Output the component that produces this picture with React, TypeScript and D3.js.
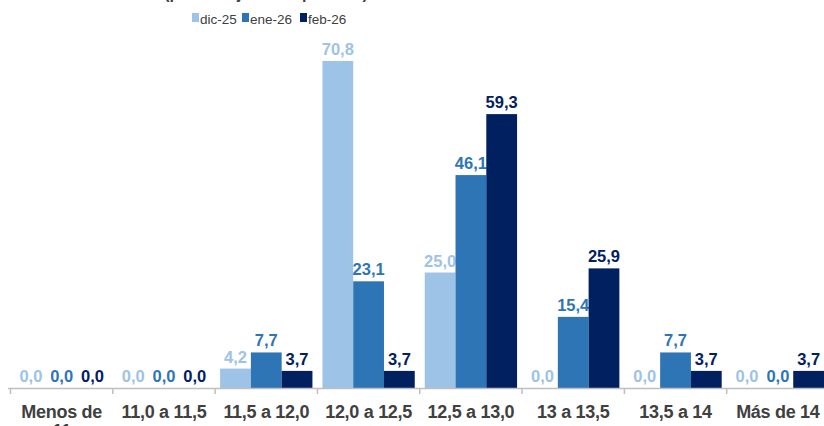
import React from "react";
import * as d3 from "d3";

const categories = ["Menos de 11", "11,0 a 11,5", "11,5 a 12,0", "12,0 a 12,5", "12,5 a 13,0", "13 a 13,5", "13,5 a 14", "Más de 14"];
const seriesNames = ["dic-25", "ene-26", "feb-26"];
const dic25 = [0.0, 0.0, 4.2, 70.8, 25.0, 0.0, 0.0, 0.0];
const ene26 = [0.0, 0.0, 7.7, 23.1, 46.1, 15.4, 7.7, 0.0];
const feb26 = [0.0, 0.0, 3.7, 3.7, 59.3, 25.9, 3.7, 3.7];
const colors = ["#9DC3E6", "#2E75B6", "#002060"];

const W = 824;
const H = 426;
const baseY = 388;

const fmt = (v: number) => v.toFixed(1).replace(".", ",");

export default function App() {
  const series = [dic25, ene26, feb26];
  const x0 = d3.scaleBand<string>().domain(categories).range([10.5, 829]).padding(0);
  const x1 = d3.scaleBand<string>().domain(seriesNames).range([5, x0.bandwidth() - 5]).padding(0);
  const y = d3.scaleLinear().domain([0, 70.8]).range([baseY, 61]);

  const legendX = [192, 242, 300];

  return (
    <svg width={W} height={H} style={{ position: "fixed", left: 0, top: 0, background: "#fff" }} fontFamily="Liberation Sans, Arial, sans-serif">
      {/* title, cropped at the top edge as in the source */}
      <text x={266} y={-1.5} textAnchor="middle" fontSize={16} fill="#404040" fontWeight="bold">(porcentaje de respuestas)</text>

      {/* legend */}
      {seriesNames.map((s, i) => (
        <g key={s} transform={`translate(${legendX[i]},0)`}>
          <rect x={0} y={13} width={7} height={9} fill={colors[i]} />
          <text x={8} y={23.5} fontSize={13.5} fill="#404040">{s}</text>
        </g>
      ))}

      {/* bars */}
      {categories.map((c, ci) => (
        <g key={c} transform={`translate(${x0(c)},0)`}>
          {seriesNames.map((s, si) => {
            const v = series[si][ci];
            const bx = x1(s)!;
            return (
              <g key={s}>
                <rect x={bx} y={y(v)} width={x1.bandwidth()} height={baseY - y(v)} fill={colors[si]} />
                <text x={bx + x1.bandwidth() / 2} y={y(v) - 6} textAnchor="middle" fontSize={16.5} fontWeight="bold" fill={colors[si]}>
                  {fmt(v)}
                </text>
              </g>
            );
          })}
        </g>
      ))}

      {/* x axis */}
      <line x1={8} x2={W} y1={baseY + 0.5} y2={baseY + 0.5} stroke="#BFBFBF" strokeWidth={1.5} />
      {categories.map((c) => (
        <line key={"t" + c} x1={x0(c)!} x2={x0(c)!} y1={baseY} y2={baseY + 6} stroke="#BFBFBF" strokeWidth={1.5} />
      ))}
      {categories.map((c) => {
        const cx = x0(c)! + x0.bandwidth() / 2;
        const lines = c === "Menos de 11" ? ["Menos de", "11"] : [c];
        return (
          <text key={"l" + c} x={cx} y={418} textAnchor="middle" fontSize={18} fontWeight="bold" fill="#404040" letterSpacing={-0.3}>
            {lines.map((l, li) => (
              <tspan key={li} x={cx} dy={li === 0 ? 0 : 19}>{l}</tspan>
            ))}
          </text>
        );
      })}
    </svg>
  );
}
